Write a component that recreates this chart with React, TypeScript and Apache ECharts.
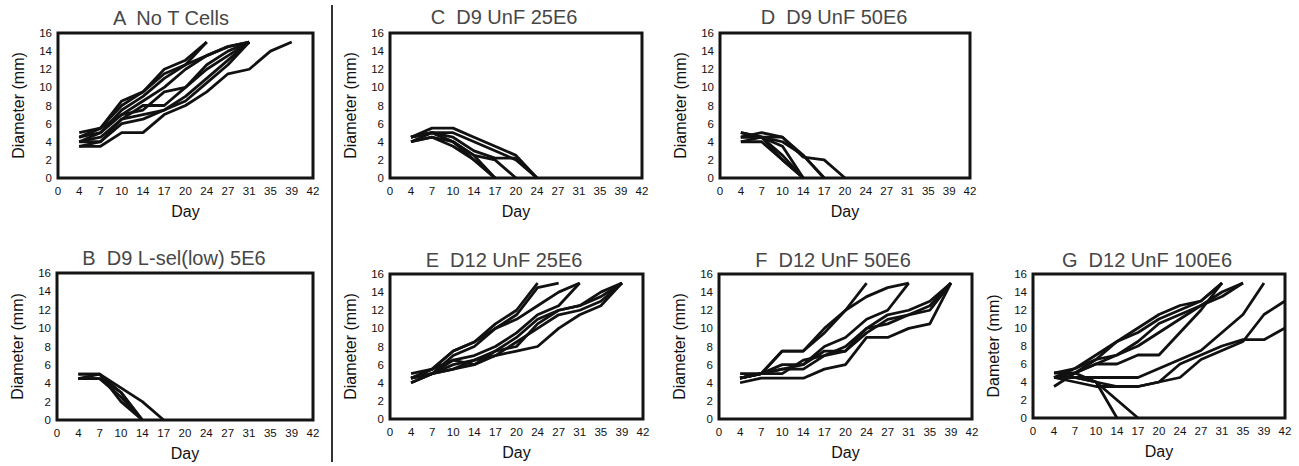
import React, { useEffect, useRef } from "react";
import * as echarts from "echarts";

// Day categories (evenly spaced on the axis)
const DAYS = ["0", "4", "7", "10", "14", "17", "20", "24", "27", "31", "35", "39", "42"];
const Y_TICKS = [0, 16, 2]; // min, max, interval

// Each series lists diameters from day 4 onward (index 1 of DAYS)
const PANEL_A = [
  [4.5, 5.5, 8.5, 9.5, 12, 13, 15],
  [5, 5.5, 8, 9.5, 11.5, 12.5, 15],
  [4.5, 5, 7.5, 9, 11, 12.5, 13.5, 14.5, 15],
  [4, 5, 7, 8.5, 10, 12, 13.5, 14.5, 15],
  [4, 4.5, 6.5, 8, 8, 10, 12, 13.5, 15],
  [4.5, 5.5, 7, 7.5, 9.5, 10, 12.5, 14, 15],
  [4, 4, 6, 6.5, 7.5, 9, 11, 13, 15],
  [3.5, 4, 6.5, 7, 7.5, 8.5, 10.5, 12.5, 15],
  [3.5, 3.5, 5, 5, 7, 8, 9.5, 11.5, 12, 14, 15],
];
const PANEL_B = [
  [5, 5, 3, 0],
  [4.5, 4.5, 2.5, 0],
  [5, 5, 2, 0],
  [4.5, 5, 3.5, 2, 0],
  [4.5, 4.5, 3, 0],
];
const PANEL_C = [
  [4.5, 5.5, 5.5, 4.5, 3.5, 2.5, 0],
  [4, 5, 5, 4, 3, 2, 0],
  [4.5, 5, 4.5, 3, 2.2, 2.2, 0],
  [4, 4.5, 4, 2.5, 2, 0],
  [4.5, 5, 4, 2.5, 0],
  [4.5, 5, 4, 2, 0],
  [4, 4.5, 3.5, 2, 0],
];
const PANEL_D = [
  [5, 4.5, 4.5, 2.3, 2, 0],
  [4.5, 5, 4.5, 2.5, 0],
  [4, 4, 2, 0],
  [4.5, 4.5, 2.5, 0],
  [5, 4.5, 2, 0],
  [4.5, 4.5, 3.5, 0],
  [4, 4.5, 4, 2.5, 0],
];
const PANEL_E = [
  [4.5, 5.5, 7.5, 8.5, 10.5, 12, 15],
  [4.5, 5.5, 7.5, 8.5, 10, 11.5, 14.5, 15],
  [4.5, 5, 7, 8, 10, 11, 12.5, 14, 15],
  [4, 5, 6.5, 7, 8, 9.5, 11.5, 12.5, 15],
  [4.5, 5, 6, 6.5, 7.5, 9, 11, 12, 12.5, 14, 15],
  [4, 5, 5.5, 6.5, 7, 7.5, 8, 10, 11.5, 12.5, 15],
  [4.5, 5, 5.5, 6, 7, 8.5, 10, 11.5, 12, 13, 15],
  [5, 5.5, 6.5, 6, 7.5, 8, 10.5, 12, 12.5, 13.5, 15],
];
const PANEL_F = [
  [4.5, 5, 7.5, 7.5, 9.5, 12, 15],
  [5, 5, 7.5, 7.5, 10, 12, 13.5, 14.5, 15],
  [4.5, 5, 6, 6, 8, 9, 11, 12, 15],
  [4.5, 5, 5.5, 6, 7.5, 7.5, 10, 11.5, 12, 13, 15],
  [4, 4.5, 4.5, 4.5, 5.5, 6, 9, 9, 10, 10.5, 15],
  [4.5, 5, 5.5, 5.5, 7, 7.5, 9.5, 11, 11.5, 12, 15],
  [4.5, 5, 5, 6.5, 7, 8, 10, 10.5, 11.5, 12.5, 15],
];
const PANEL_G = [
  [5, 5.5, 7, 8.5, 10, 11.5, 12.5, 13, 15],
  [4.5, 5.5, 6.5, 8.5, 9.5, 11, 12, 13, 15],
  [4.5, 5, 6, 7, 8.5, 10.5, 11.5, 12.5, 14, 15],
  [3.5, 5, 6.5, 7, 8, 9.5, 11, 12.5, 13.5, 15],
  [4.5, 5, 6, 6, 7, 7, 9.5, 12, 15],
  [4.5, 4.5, 4.5, 4.5, 4.5, 5.5, 6.5, 7.5, 9.5, 11.5, 15],
  [4.5, 4, 3.5, 3.5, 3.5, 4, 4.5, 6.5, 7.5, 8.5, 11.5, 13],
  [4.5, 4.5, 4, 3.5, 3.5, 4, 6, 7, 8, 8.7, 8.7, 10],
  [5, 5, 4, 0],
  [4.5, 4.5, 4, 2, 0],
];

const PANELS = [
  { title: "A  No T Cells", data: PANEL_A, yName: "Diameter (mm)", grid: [58, 33, 255, 145], tx: 171, ty: 18 },
  { title: "C  D9 UnF 25E6", data: PANEL_C, yName: "Diameter (mm)", grid: [390, 33, 252, 145], tx: 504, ty: 17 },
  { title: "D  D9 UnF 50E6", data: PANEL_D, yName: "Diameter (mm)", grid: [720, 33, 250, 145], tx: 834, ty: 17 },
  { title: "B  D9 L-sel(low) 5E6", data: PANEL_B, yName: "Diameter (mm)", grid: [57, 273, 256, 147], tx: 174, ty: 258 },
  { title: "E  D12 UnF 25E6", data: PANEL_E, yName: "Diameter (mm)", grid: [390, 274, 253, 145], tx: 504, ty: 260 },
  { title: "F  D12 UnF 50E6", data: PANEL_F, yName: "Diameter (mm)", grid: [719, 274, 253, 145], tx: 833, ty: 260 },
  { title: "G  D12 UnF 100E6", data: PANEL_G, yName: "Dameter (mm)", grid: [1033, 274, 252, 144], tx: 1147, ty: 260 },
];

const FONT = "'Liberation Sans', Arial, sans-serif";

export default function App() {
  const ref = useRef<HTMLDivElement>(null);
  useEffect(() => {
    if (!ref.current) return;
    const chart = echarts.init(ref.current, undefined, { renderer: "svg" });
    const grids: any[] = [];
    const xAxes: any[] = [];
    const yAxes: any[] = [];
    const series: any[] = [];
    const graphics: any[] = [];
    PANELS.forEach((p, i) => {
      const [l, t, w, h] = p.grid;
      grids.push({ left: l, top: t, width: w, height: h, show: true, borderColor: "#141414", borderWidth: 3, backgroundColor: "#fff" });
      xAxes.push({
        type: "category",
        gridIndex: i,
        data: DAYS,
        boundaryGap: false,
        name: "Day",
        nameLocation: "middle",
        nameGap: 25,
        nameTextStyle: { fontFamily: FONT, fontSize: 16, color: "#111" },
        axisLine: { show: false },
        axisTick: { show: false },
        axisLabel: { interval: 0, fontFamily: FONT, fontSize: 11.5, color: "#111", margin: 7 },
        splitLine: { show: false },
      });
      yAxes.push({
        type: "value",
        gridIndex: i,
        min: Y_TICKS[0],
        max: Y_TICKS[1],
        interval: Y_TICKS[2],
        name: p.yName,
        nameLocation: "middle",
        nameGap: 32,
        nameTextStyle: { fontFamily: FONT, fontSize: 16, color: "#111" },
        axisLine: { show: false },
        axisTick: { show: false },
        axisLabel: { fontFamily: FONT, fontSize: 11.5, color: "#111", margin: 6 },
        splitLine: { show: false },
      });
      p.data.forEach((vals) => {
        series.push({
          type: "line",
          xAxisIndex: i,
          yAxisIndex: i,
          data: [null, ...vals],
          symbol: "none",
          lineStyle: { color: "#111", width: 2.8 },
          z: 3,
        });
      });
      graphics.push({
        type: "text",
        x: p.tx,
        y: p.ty,
        style: { text: p.title, align: "center", verticalAlign: "middle", fontFamily: FONT, fontSize: 20, fill: "#474747" },
      });
    });
    graphics.push({
      type: "line",
      shape: { x1: 332, y1: 5, x2: 332, y2: 462 },
      style: { stroke: "#333", lineWidth: 2 },
    });
    chart.setOption({
      animation: false,
      backgroundColor: "#fff",
      grid: grids,
      xAxis: xAxes,
      yAxis: yAxes,
      series,
      graphic: graphics,
    });
    return () => chart.dispose();
  }, []);
  return <div ref={ref} style={{ position: "fixed", left: 0, top: 0, width: 1299, height: 466 }} />;
}
